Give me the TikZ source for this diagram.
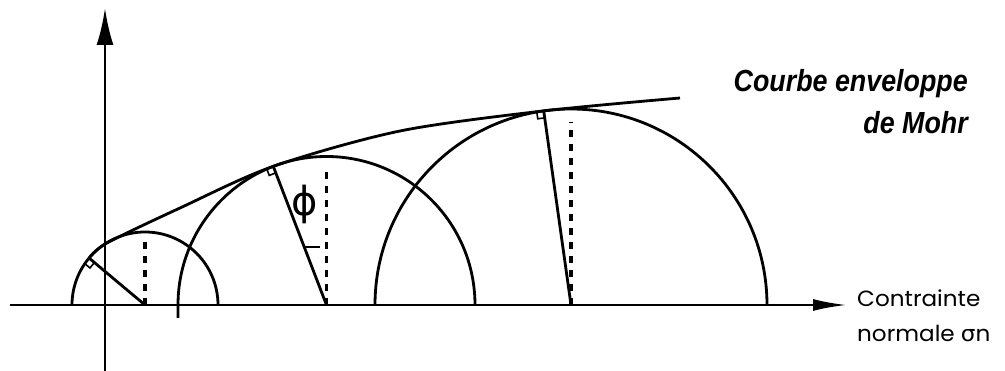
\documentclass[tikz,border=0pt]{standalone}
\usepackage{fontspec}
\usepackage{graphicx}
\usetikzlibrary{arrows.meta,calc}
\newfontfamily\gothic{Poppins}
\newfontfamily\dejavu{DejaVu Sans}
\newfontfamily\envfont{Liberation Sans}
\begin{document}
\begin{tikzpicture}[x=1pt,y=1pt,
  thick line/.style={line width=2.8pt},
  dashv/.style={line width=3.4pt, dash pattern=on 7pt off 7pt},
  rmark/.style={line width=1.6pt},
  envtext/.style={anchor=base east, inner sep=0pt, font=\envfont\bfseries\itshape\fontsize{30.5}{30.5}\selectfont},
  axtext/.style={anchor=base west, inner sep=0pt, font=\gothic\fontsize{22}{22}\selectfont}]
\useasboundingbox (0,0) rectangle (1005,371);
% axes
\coordinate (xstart) at (10,66);
\coordinate (xend) at (847,66);
\coordinate (ybot) at (105,0);
\coordinate (ytop) at (105,363);
\draw[thick line, -{Latex[length=34pt,width=12pt]}] (xstart) -- (xend);
\draw[thick line, -{Latex[length=37pt,width=17pt]}] (ybot) -- (ytop);
% circle centres
\coordinate (C1) at (145,66);
\coordinate (C2) at (326.5,66);
\coordinate (C3) at (571,66);
% half circles
\draw[thick line] (C1) ++(180:73) arc[start angle=180,end angle=0,radius=73];
\draw[thick line] ($(C2)+(-148.5,-13)$) -- ++(0,13) arc[start angle=180,end angle=0,radius=148.5];
\draw[thick line] (C3) ++(180:196) arc[start angle=180,end angle=0,radius=196];
% tangent points
\coordinate (T1) at ($(C1)+(140:73)$);
\coordinate (T2) at ($(C2)+(111:148.5)$);
\coordinate (T3) at ($(C3)+(98:196)$);
% envelope
\coordinate (e1) at (107,128);
\coordinate (e2) at (180,163);
\coordinate (e3) at (400,240);
\coordinate (e4) at (680,273);
\draw[thick line] plot[smooth, tension=0.5] coordinates {(T1) (e1) (e2) (T2) (e3) (T3) (e4)};
% radii
\draw[thick line] (C1) -- (T1);
\draw[thick line] (C2) -- (T2);
\draw[thick line] (C3) -- (T3);
% right angle marks
\draw[rmark, shift={(T1)}, rotate=50] (0,-7) -- (-7,-7) -- (-7,0);
\draw[rmark, shift={(T2)}, rotate=21] (0,-7) -- (-7,-7) -- (-7,0);
\draw[rmark, shift={(T3)}, rotate=8] (0,-7) -- (-7,-7) -- (-7,0);
% dashed verticals
\draw[dashv] (C1) -- ++(0,63);
\draw[dashv] (C2) -- ++(0,137);
\draw[dashv] (C3) -- ++(0,183);
% angle tick
\coordinate (k1) at ($(C2)!0.42!(T2)$);
\draw[rmark] (k1) -- ++(16,0);
% phi
\node[inner sep=0pt, font=\dejavu\fontsize{40}{40}\selectfont] (phi) at (305,167) {ϕ};
% labels
\node[envtext] (env1) at (968,279) {\scalebox{0.88}[1]{Courbe enveloppe}};
\node[envtext] (env2) at (968,237) {\scalebox{0.88}[1]{de Mohr}};
\node[axtext] (ax1) at (857,64) {\scalebox{1.05}[1]{Contrainte}};
\node[axtext] (ax2) at (857,29) {\scalebox{1.05}[1]{normale {\dejavu σ}n}};
\end{tikzpicture}
\end{document}
